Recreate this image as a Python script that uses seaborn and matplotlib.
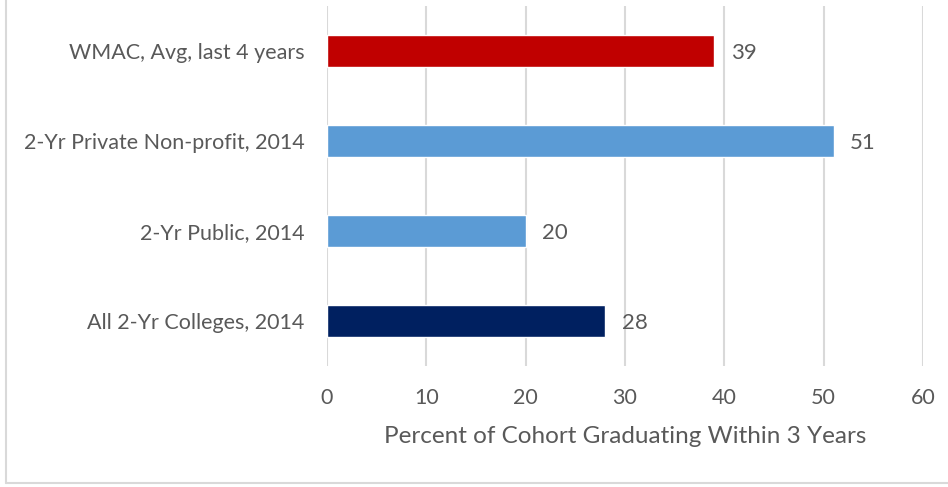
import matplotlib
matplotlib.use("Agg")
from matplotlib import pyplot as plt
from matplotlib.lines import Line2D
import pandas as pd
import seaborn as sns

# chart values, top to bottom
categories = ["WMAC, Avg, last 4 years", "2-Yr Private Non-profit, 2014",
              "2-Yr Public, 2014", "All 2-Yr Colleges, 2014"]
values = [39, 51, 20, 28]
bar_colors = ["#C00000", "#5B9BD5", "#5B9BD5", "#002060"]
x_ticks = [0, 10, 20, 30, 40, 50, 60]

TEXT = "#595959"
GRID = "#D9D9D9"

sns.set_style("white")
plt.rcParams["font.family"] = ["Lato", "DejaVu Sans"]

fig = plt.figure(figsize=(9.48, 4.87), dpi=100)
ax = fig.add_axes([327 / 948, 1 - 366 / 487, (923 - 327) / 948, 360 / 487])

df = pd.DataFrame({"category": categories, "value": values})
sns.barplot(data=df, x="value", y="category", hue="category", palette=bar_colors,
            orient="h", width=0.36, legend=False, ax=ax, zorder=3, saturation=1)

# value labels at bar ends
for p, v in zip(ax.patches, values):
    ax.annotate(f"{v}", (p.get_x() + p.get_width(), p.get_y() + p.get_height() / 2),
                xytext=(12, 0), textcoords="offset points",
                ha="left", va="center_baseline", fontsize=16, color=TEXT)

ax.set_xlim(0, 60)
ax.set_xticks(x_ticks)
ax.xaxis.grid(True, color=GRID, linewidth=1.5, zorder=0)
ax.yaxis.grid(False)
for s in ax.spines.values():
    s.set_visible(False)
ax.tick_params(axis="both", length=0, labelsize=15.5, labelcolor=TEXT)
ax.tick_params(axis="y", pad=16)
ax.tick_params(axis="x", pad=16)
ax.set_ylabel("")
ax.set_xlabel("Percent of Cohort Graduating Within 3 Years", fontsize=17.5,
              color=TEXT, labelpad=13)

# chart area border (left and bottom visible)
fig.add_artist(Line2D([6 / 948, 6 / 948], [1 - 483 / 487, 1.0], transform=fig.transFigure,
                      color=GRID, linewidth=1.5))
fig.add_artist(Line2D([6 / 948, 1.0], [1 - 483 / 487, 1 - 483 / 487], transform=fig.transFigure,
                      color=GRID, linewidth=1.5))

fig.savefig("out.png", dpi=100)
